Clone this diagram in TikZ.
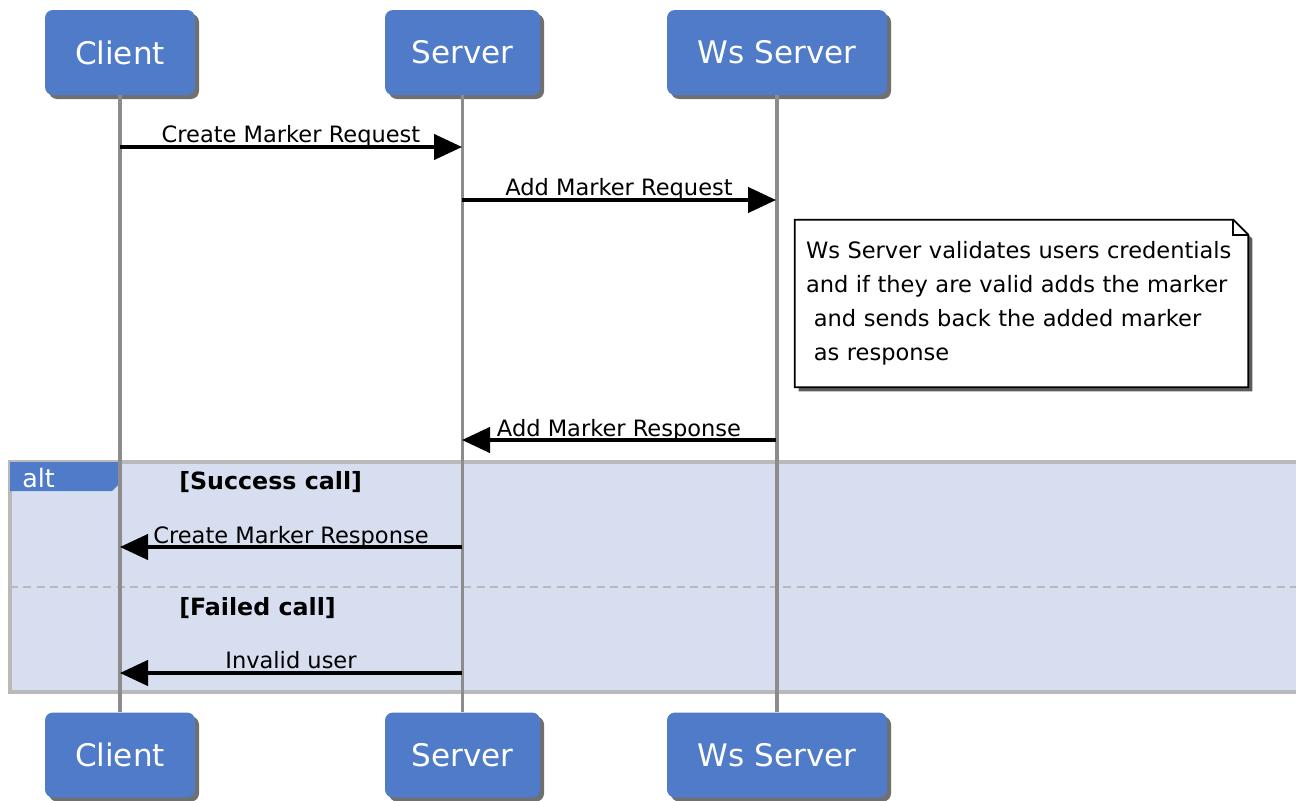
\documentclass[tikz,border=0pt]{standalone}
\usepackage{fontspec}
\setmainfont{DejaVu Sans}
\usetikzlibrary{shadows,arrows.meta}

\definecolor{partblue}{RGB}{80,123,201}
\definecolor{altfill}{RGB}{214,222,240}
\definecolor{altborder}{RGB}{185,185,185}
\definecolor{lifegray}{RGB}{140,140,140}

\tikzset{
  participant/.style={fill=partblue, rounded corners=6pt, minimum height=63.75pt,
    text=white, font=\fontsize{23.3}{28}\selectfont,
    drop shadow={shadow xshift=3pt, shadow yshift=-3pt, opacity=0.7, fill=black!80}},
  lifeline/.style={draw=lifegray, line width=2.6pt},
  msg/.style={draw=black, line width=2.5pt, -{Triangle[length=21pt,width=19pt]}},
  msglabel/.style={font=\fontsize{16.9}{20}\selectfont, inner sep=0pt, anchor=base},
  guard/.style={font=\bfseries\fontsize{17.8}{20}\selectfont, inner sep=0pt, anchor=base west},
  notebox/.style={font=\fontsize{16.9}{25.5}\selectfont, align=left, text width=323.25pt,
    inner xsep=8.25pt, inner ysep=0pt, minimum height=125.25pt},
  noteshape/.style={draw=black, line width=1.3pt, fill=white,
    drop shadow={shadow xshift=3pt, shadow yshift=-3pt, opacity=0.75, fill=black!85}},
}

\begin{document}
\begin{tikzpicture}[x=0.75pt,y=-0.75pt]
\useasboundingbox (0,0) rectangle (1296,800);

% alt frame with its two operands
\draw[altborder, fill=altfill, line width=2.4pt] (10,462) rectangle (1310,692);
\draw[altborder, line width=1.8pt, dash pattern=on 6pt off 4pt] (10,587) -- (1310,587);
\fill[partblue] (10,462) -- (120,462) -- (120,483) -- (112,491) -- (10,491) -- cycle;
\node[text=white, font=\fontsize{19}{20}\selectfont, inner sep=0pt, anchor=base west] (altlbl) at (22,487) {alt};
\node[guard] (g1) at (179,489) {[Success call]};
\node[guard] (g2) at (179,615) {[Failed call]};

% participants, top and bottom
\node[participant, minimum width=112.5pt] (cT) at (120,52.5) {Client};
\node[participant, minimum width=116.25pt] (sT) at (462.5,52.5) {Server};
\node[participant, minimum width=165pt] (wT) at (777,52.5) {Ws Server};
\node[participant, minimum width=112.5pt] (cB) at (120,755) {Client};
\node[participant, minimum width=116.25pt] (sB) at (462.5,755) {Server};
\node[participant, minimum width=165pt] (wB) at (777,755) {Ws Server};

% lifelines
\draw[lifeline] (cT.south) -- (cB.north);
\draw[lifeline] (sT.south) -- (sB.north);
\draw[lifeline] (wT.south) -- (wB.north);

% message end points on the lifelines
\coordinate (c1) at (120,147);  \coordinate (s1) at (462,147);
\coordinate (s2) at (462,200);  \coordinate (w2) at (776,200);
\coordinate (w3) at (776,440);  \coordinate (s3) at (462,440);
\coordinate (s4) at (462,547);  \coordinate (c4) at (120,547);
\coordinate (s5) at (462,673);  \coordinate (c5) at (120,673);

% messages
\draw[msg] (c1) -- (s1);
\node[msglabel] (l1) at (291,142) {Create Marker Request};
\draw[msg] (s2) -- (w2);
\node[msglabel] (l2) at (619,195) {Add Marker Request};
\draw[msg] (w3) -- (s3);
\node[msglabel] (l3) at (619,436) {Add Marker Response};
\draw[msg] (s4) -- (c4);
\node[msglabel] (l4) at (291,543) {Create Marker Response};
\draw[msg] (s5) -- (c5);
\node[msglabel] (l5) at (291,668) {Invalid user};

% note with folded corner
\node[notebox] (note) at (1021.5,303.5) {};
\path[noteshape] (note.north west) -- ([xshift=-11.25pt]note.north east)
  -- ([yshift=-11.25pt]note.north east) -- (note.south east)
  -- (note.south west) -- cycle;
\draw[line width=1.3pt] ([xshift=-11.25pt]note.north east)
  |- ([yshift=-11.25pt]note.north east);
\node[notebox] (notetext) at (note.center) {Ws Server validates users credentials\\
and if they are valid adds the marker\\
\hspace*{0.35em}and sends back the added marker\\
\hspace*{0.35em}as response};
\end{tikzpicture}
\end{document}
